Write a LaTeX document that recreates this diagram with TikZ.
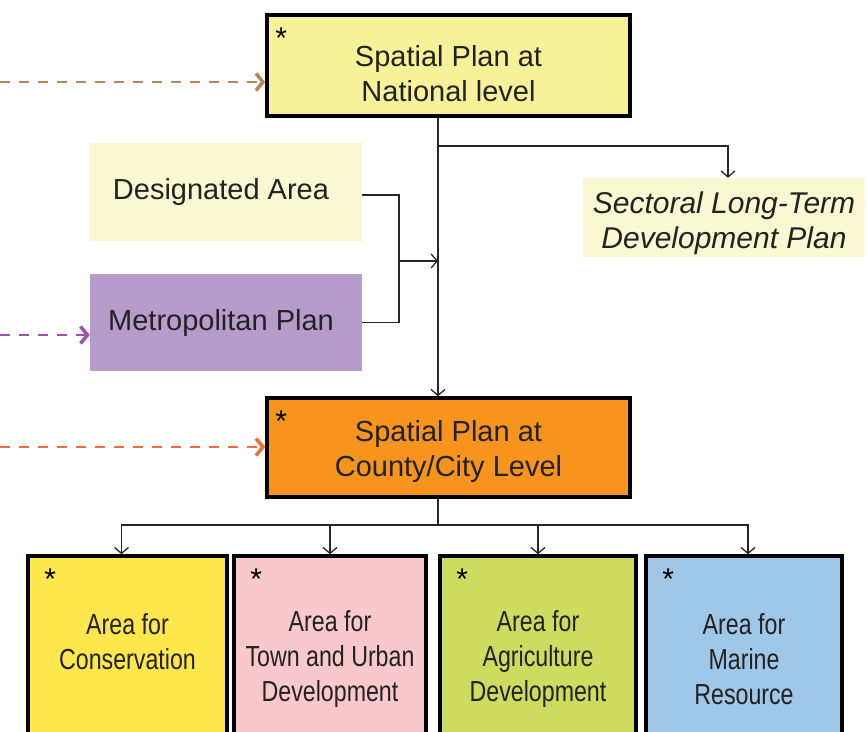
\documentclass[tikz,border=0pt]{standalone}
\usepackage{fontspec}
\setmainfont{Liberation Sans}
\newfontfamily\narrowfont[FakeStretch=0.8]{Liberation Sans}
\usetikzlibrary{arrows.meta}

\definecolor{natyellow}{HTML}{F7F29A}
\definecolor{paleyellow}{HTML}{FAF8D2}
\definecolor{metropurple}{HTML}{B79BCA}
\definecolor{countyorange}{HTML}{F7941D}
\definecolor{consyellow}{HTML}{FDE74C}
\definecolor{townpink}{HTML}{F8C8CC}
\definecolor{agrigreen}{HTML}{CDDC5E}
\definecolor{marineblue}{HTML}{9FC7E8}
\definecolor{dashbrown}{HTML}{B8865A}
\definecolor{dashpurple}{HTML}{A24FB0}
\definecolor{dashorange}{HTML}{F26B3A}
\definecolor{textgray}{HTML}{222222}

\begin{document}
\begin{tikzpicture}[x=1pt, y=-1pt, text=textgray,
    star mark/.style={label={[font=\fontsize{30}{30}\selectfont, text=black, anchor=north west, inner xsep=#1, inner ysep=14pt]north west:*}},
    plan box/.style={draw=black, line width=3.5, align=center, inner sep=0pt,
        font=\fontsize{29}{35}\selectfont},
    side box/.style={align=center, inner sep=0pt, font=\fontsize{29}{35}\selectfont},
    area box/.style={plan box, star mark=18pt, minimum width=#1, minimum height=206,
        font=\narrowfont\fontsize{29}{35}\selectfont},
    conn/.style={line width=1.3, draw=black!85, -{Straight Barb[length=6pt, width=14pt]}},
    feed/.style={line width=2.8, dash pattern=on 10pt off 9pt, draw=#1,
        -{Straight Barb[length=7pt, width=17pt, line width=3.5pt]}}]

    \clip (0,0) rectangle (867,731);

    % Upper level
    \node[plan box, star mark=10pt, fill=natyellow, minimum width=363, minimum height=101] (national) at (448.5,65.5) {\mbox{}\\[2pt]Spatial Plan at\\National level};
    \node[side box, fill=paleyellow, minimum width=272, minimum height=98] (designated) at (226,192) {Designated Area\hspace{10pt}};
    \node[side box, fill=metropurple, minimum width=272, minimum height=97] (metro) at (226,322.5) {Metropolitan Plan\hspace{10pt}};
    \node[side box, fill=paleyellow, minimum width=282, minimum height=79, font=\itshape\fontsize{30}{35}\selectfont] (sectoral) at (724,217.5) {\mbox{}\\[-1pt]Sectoral Long-Term\\Development Plan};

    % Middle level
    \node[plan box, star mark=10pt, fill=countyorange, minimum width=363, minimum height=99] (county) at (448.5,447.5) {\mbox{}\\[-6pt]Spatial Plan at\\County/City Level};

    % Lower level
    \node[area box=199, fill=consyellow] (conservation) at (127.5,659) {Area for\\Conservation\\\mbox{}};
    \node[area box=192, fill=townpink] (town) at (330,659) {Area for\\Town and Urban\\Development};
    \node[area box=196, fill=agrigreen] (agriculture) at (538,659) {Area for\\Agriculture\\Development};
    \node[area box=196, fill=marineblue] (marine) at (744,659) {Area for\\Marine\\Resource};

    \coordinate (trunk) at (438,146);
    \coordinate (join) at (399,261);
    \coordinate (split) at (438,525);
    \coordinate (natin) at (0,82);
    \coordinate (metroin) at (0,335);
    \coordinate (countyin) at (0,447);

    \draw[conn] (national.south -| trunk) -- (county.north -| trunk);
    \draw[conn] (trunk) -| ([xshift=4]sectoral.north);
    \draw[line width=1.3, draw=black!85] ([yshift=-3]designated.east) -| (join) |- (metro.east);
    \draw[conn] (join) -- (join -| trunk);

    \draw[line width=1.3, draw=black!85] (county.south -| split) -- (split);
    \foreach \area/\dx in {conservation/-6, town/0, agriculture/0, marine/4}
        \draw[conn] (split) -| ([xshift=\dx]\area.north);

    % Incoming dashed links
    \draw[feed=dashbrown] (natin) -- (natin -| national.west);
    \draw[feed=dashpurple] (metroin) -- (metroin -| metro.west);
    \draw[feed=dashorange] (countyin) -- (countyin -| county.west);

\end{tikzpicture}
\end{document}
